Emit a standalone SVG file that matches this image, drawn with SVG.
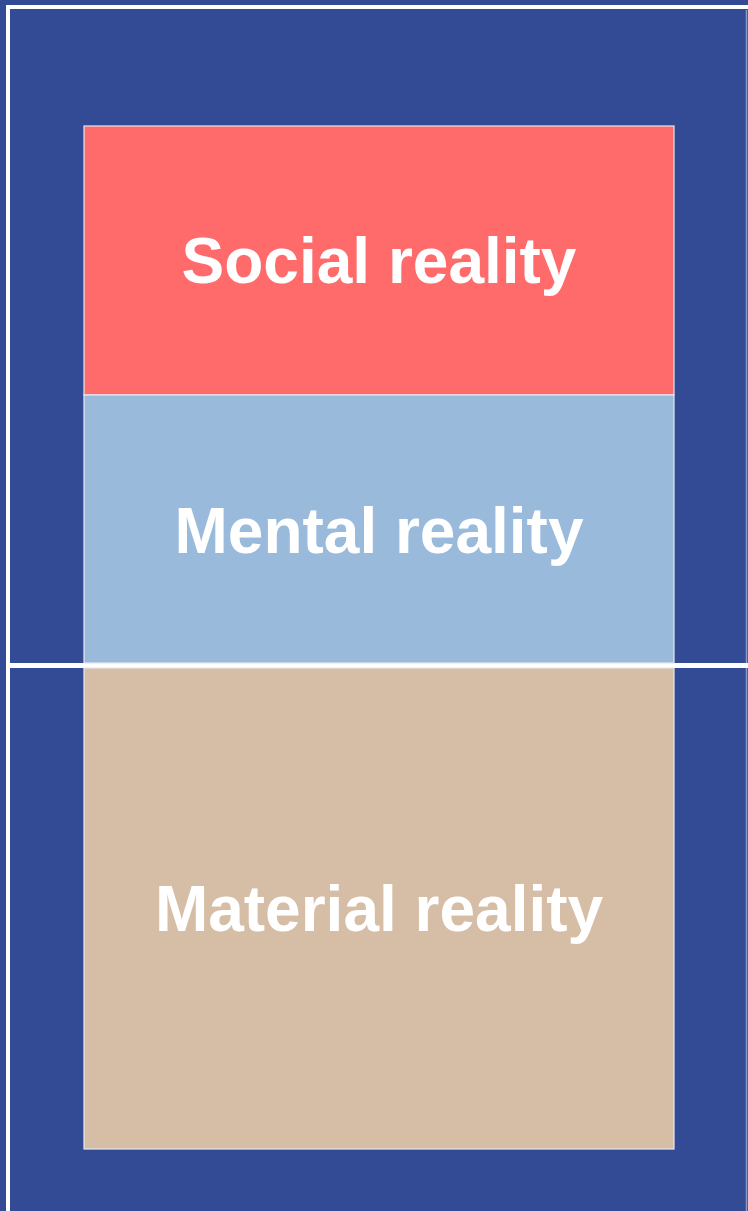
<svg xmlns="http://www.w3.org/2000/svg" width="748" height="1211" viewBox="0 0 748 1211">
<style>
.lbl{font-family:"Liberation Sans",Arial,sans-serif;font-weight:bold;font-size:64px;fill:#ffffff;text-anchor:middle}
.box{stroke:#e8e8ee;stroke-width:1.2}
.frame{fill:none;stroke:#ffffff;stroke-width:4}
</style>
<rect x="0" y="0" width="748" height="1211" fill="#334a94"/>
<g id="frame">
<polyline class="frame" points="8,1211 8,7 748,7"/>
<line x1="746.5" y1="10" x2="746.5" y2="1211" stroke="#8d9cc8" stroke-width="1.5"/>
<line x1="8" y1="665.5" x2="748" y2="665.5" stroke="#ffffff" stroke-width="5"/>
</g>
<g id="social">
<rect class="box" x="84" y="126" width="590" height="269" fill="#ff6b6b"/>
<text class="lbl" x="379" y="283">Social reality</text>
</g>
<g id="mental">
<rect class="box" x="84" y="395" width="590" height="268" fill="#99badb"/>
<text class="lbl" x="379" y="553">Mental reality</text>
</g>
<g id="material">
<rect class="box" x="84" y="668" width="590" height="481" fill="#d6bea6"/>
<text class="lbl" x="379" y="931">Material reality</text>
</g>
<g id="connectors"/>
</svg>
